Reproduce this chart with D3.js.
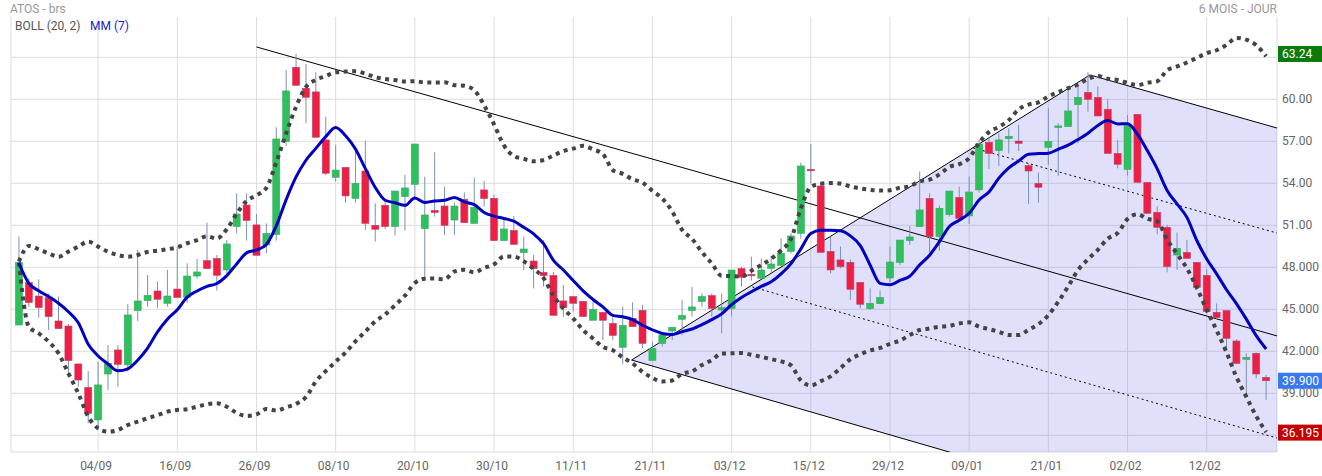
<!DOCTYPE html>
<html><head><meta charset="utf-8">
<script src="https://cdn.jsdelivr.net/npm/d3@7"></script>
<style>body{margin:0;background:#fff;font-family:Roboto,"Noto Sans",sans-serif}</style>
</head><body><svg id="c" width="1322" height="476"></svg>
<script>
// OHLC per trading day (index 0..126)
const opens  = [43.88,46.91,45.95,45.84,44.17,43.81,41.10,39.43,37.10,40.38,42.10,41.03,44.91,45.62,46.31,45.43,46.45,45.86,47.38,48.48,48.64,47.81,50.91,52.45,51.03,49.60,50.34,56.98,62.29,60.79,60.53,57.10,54.43,55.14,52.93,54.88,51.00,52.43,50.91,53.05,53.93,50.76,52.07,52.38,51.38,52.86,51.14,53.53,52.93,49.91,50.64,49.05,48.45,47.64,47.43,45.60,45.91,45.57,44.22,44.79,44.00,42.29,44.36,44.93,41.34,42.57,43.45,44.29,44.91,45.55,45.98,44.95,45.07,47.91,47.50,47.22,47.93,48.14,49.14,50.43,55.00,53.81,49.14,48.53,48.36,46.93,45.05,45.41,47.24,48.34,49.91,50.91,52.93,50.19,51.76,53.00,51.67,53.53,56.93,56.34,57.19,57.02,55.26,54.00,56.57,57.98,58.05,59.62,60.50,60.14,59.29,56.14,55.00,58.93,54.07,51.93,50.86,48.88,49.07,48.36,47.43,44.79,44.91,42.74,41.43,41.86,40.14];
const highs  = [50.19,47.22,47.14,46.14,45.91,43.95,41.10,40.60,41.26,42.45,42.45,45.38,49.24,47.45,46.98,47.81,49.48,48.29,48.60,51.19,48.88,49.95,53.29,53.29,51.81,51.14,58.00,62.10,63.24,62.53,61.93,58.76,56.74,55.14,56.62,57.05,52.57,52.86,53.45,54.60,56.81,54.48,56.22,53.76,52.62,53.34,54.41,54.17,53.17,51.38,51.67,50.19,48.88,49.95,47.67,46.74,45.91,45.57,45.55,44.79,44.48,45.19,45.50,45.31,42.69,43.17,43.72,45.67,46.62,46.14,46.14,46.14,47.81,48.05,48.76,48.64,48.81,50.07,50.43,55.48,56.81,54.00,50.19,49.48,48.57,46.93,46.50,46.34,49.48,49.95,50.95,54.84,53.29,52.41,53.45,53.76,54.48,57.10,57.34,57.57,57.93,58.17,55.43,54.76,59.36,58.29,60.67,60.91,61.93,60.91,60.00,57.10,58.88,58.93,54.07,52.34,51.03,50.48,49.95,48.36,47.86,45.43,44.91,42.86,41.86,41.93,40.31];
const lows   = [43.88,45.19,44.41,43.53,43.62,40.43,39.48,36.86,36.38,39.24,39.48,40.55,44.17,45.19,45.07,45.19,45.84,45.48,47.19,47.91,46.34,47.57,50.43,49.91,48.86,49.00,49.91,56.67,61.00,58.29,57.29,54.60,54.12,52.62,52.62,50.67,49.84,50.72,50.26,50.62,52.93,47.14,51.62,50.31,50.31,51.19,51.14,52.34,49.91,49.91,49.64,47.81,46.50,46.62,44.57,44.48,44.84,44.48,44.22,42.81,42.81,41.10,43.76,42.22,41.34,42.34,42.81,43.17,44.48,45.19,44.48,43.29,44.53,46.62,47.05,47.22,47.57,48.14,49.00,50.03,54.00,49.07,47.57,47.93,45.67,45.07,44.95,45.36,46.95,48.17,49.60,50.91,49.07,49.19,51.62,51.50,51.10,53.34,55.03,55.24,56.14,56.31,52.53,52.62,55.31,54.53,58.05,56.86,59.12,58.81,56.14,55.07,54.55,54.07,51.86,50.36,47.64,47.81,48.64,46.38,44.84,44.24,42.10,41.10,38.81,40.07,38.53];
const closes = [48.34,45.48,45.12,44.48,43.62,41.34,39.95,37.57,39.60,41.14,41.07,44.60,45.60,46.00,45.72,45.95,45.84,47.38,47.67,47.91,47.43,49.67,51.81,51.34,48.86,50.43,57.17,60.60,61.00,60.14,57.29,54.72,54.95,53.10,54.00,51.14,50.72,50.91,53.45,53.67,56.81,51.74,51.91,51.00,52.38,51.19,52.29,52.91,49.91,50.74,49.64,49.31,47.91,47.41,44.57,45.12,45.43,44.48,45.00,44.22,43.14,43.86,43.76,42.57,42.22,43.17,43.72,44.57,45.17,45.91,45.07,45.12,47.81,47.29,47.43,47.81,48.24,49.00,50.24,55.24,54.91,49.07,47.81,48.05,46.43,45.36,45.43,45.84,48.38,49.95,50.17,52.10,50.19,52.22,53.45,51.50,53.38,56.81,56.14,57.10,57.36,56.86,54.88,53.72,57.00,58.10,59.17,60.14,60.00,58.81,56.14,55.36,58.12,54.07,51.86,50.86,48.05,49.36,48.64,46.57,44.84,44.41,42.93,41.14,41.57,40.38,39.90];
// indicator values read for the first days (before full windows are available)
const mmStart    = [48.29,46.86,46.33,45.91,45.43,44.83];
const bollUpStart= [48.41,49.53,49.29,49.00,48.76,49.12,49.48,49.84,49.48,49.12,48.88,48.76,48.88,49.10,49.19,49.29,49.43,49.72,49.95];
const bollLoStart= [48.34,43.76,43.29,42.69,41.86,40.43,39.00,37.34,36.50,36.26,36.38,36.74,36.98,37.22,37.45,37.69,37.81,37.86,38.05];
const tickIdx    = [8,16,24,32,40,48,56,64,72,80,88,96,104,112,120];
const tickLabels = ["04/09","16/09","26/09","08/10","20/10","30/10","11/11","21/11","03/12","15/12","29/12","09/01","21/01","02/02","12/02"];
const yTicks     = [36,39,42,45,48,51,54,57,60,63];
const yTickLabels= {39:"39.000",42:"42.000",45:"45.000",48:"48.000",51:"51.00",54:"54.00",57:"57.00",60:"60.00"};
const badges     = [[63.24,"63.24","#0b7a0b"],[39.90,"39.900","#3a78f2"],[36.195,"36.195","#c40000"]];
// trend lines [index, price]
const mainLine   = [[24,63.74],[127.1,43.10]];
const channelA   = [[61.9,41.38],[108.2,61.74]];
const channelTop = [[108.2,61.74],[127.1,57.95]];
const channelBot = [[61.9,41.38],[127.1,28.03]];
const dotB       = [[96.4,56.53],[127.1,50.45]];
const dotA       = [[74.1,46.60],[127.1,35.81]];

const L=11,R=1277,T=17,B=452;
const svg=d3.select("#c");
const x=d3.scaleLinear().domain([-0.8,127.1]).range([L,R]);
const y=d3.scaleLinear().domain([34.81,65.88]).range([B,T]);
const n=closes.length, idx=d3.range(n);

// indicators
const mm=idx.map(i=>i<6?mmStart[i]:d3.mean(closes.slice(i-6,i+1)));
const up=[],lo=[];
idx.forEach(i=>{ if(i<19){up.push(bollUpStart[i]);lo.push(bollLoStart[i]);return;}
  const w=closes.slice(i-19,i+1),m=d3.mean(w),sd=Math.sqrt(d3.mean(w,v=>(v-m)*(v-m)));
  up.push(m+2*sd);lo.push(m-2*sd);});

svg.append("defs").append("clipPath").attr("id","clip").append("rect").attr("x",L).attr("y",T).attr("width",R-L).attr("height",B-T);
const g=svg.append("g");
// grid
g.selectAll(".hg").data(yTicks).join("line").attr("x1",L).attr("x2",R).attr("y1",d=>y(d)).attr("y2",d=>y(d)).attr("stroke","#ddd");
g.selectAll(".vg").data(tickIdx).join("line").attr("y1",T).attr("y2",B).attr("x1",d=>x(d)).attr("x2",d=>x(d)).attr("stroke","#ddd");
g.append("path").attr("d",`M${L},${T}V${B}H${R}V${T}`).attr("fill","none").attr("stroke","#ddd");

const c=svg.append("g").attr("clip-path","url(#clip)");
const pt=p=>[x(p[0]),y(p[1])];
const poly=[channelA[0],channelA[1],channelTop[1],channelBot[1]].map(pt);
c.append("polygon").attr("points",poly.join(" ")).attr("fill","rgba(110,110,235,0.21)");
const ln=(a,dash)=>c.append("line").attr("x1",x(a[0][0])).attr("y1",y(a[0][1])).attr("x2",x(a[1][0])).attr("y2",y(a[1][1]))
  .attr("stroke","#000").attr("stroke-width",1).attr("stroke-dasharray",dash||null);
[mainLine,channelA,channelTop,channelBot].forEach(a=>ln(a));
[dotB,dotA].forEach(a=>ln(a,"2 3"));

// candles
const cg=c.append("g");
idx.forEach(i=>{
  const upc=closes[i]>=opens[i];
  cg.append("line").attr("x1",x(i)).attr("x2",x(i)).attr("y1",y(highs[i])).attr("y2",y(lows[i])).attr("stroke","#7a93b3");
  const t=y(Math.max(opens[i],closes[i])),b=y(Math.min(opens[i],closes[i]));
  cg.append("rect").attr("x",x(i)-3.5).attr("width",7).attr("y",t).attr("height",Math.max(1.5,b-t))
    .attr("fill",upc?"#2ec05a":"#ee1f40").attr("stroke",upc?"#3aa76a":"#b8457a").attr("stroke-width",0.6);
});
const line=d3.line().x((d,i)=>x(i)).y(d=>y(d)).curve(d3.curveMonotoneX);
c.append("path").attr("d",line(up)).attr("fill","none").attr("stroke","#444").attr("stroke-width",4).attr("stroke-dasharray","4 4.5");
c.append("path").attr("d",line(lo)).attr("fill","none").attr("stroke","#444").attr("stroke-width",4).attr("stroke-dasharray","4 4.5");
c.append("path").attr("d",line(mm)).attr("fill","none").attr("stroke","#0000c0").attr("stroke-width",3);

// axes text
svg.selectAll(".yl").data(yTicks.filter(d=>yTickLabels[d])).join("text").attr("x",R+5).attr("y",d=>y(d)+4)
  .attr("font-size",12).attr("fill","#666").text(d=>yTickLabels[d]);
svg.selectAll(".xl").data(tickIdx).join("text").attr("x",d=>x(d)-2).attr("y",470).attr("text-anchor","middle")
  .attr("font-size",12).attr("fill","#666").text((d,i)=>tickLabels[i]);
badges.forEach(([v,t,col])=>{
  svg.append("rect").attr("x",R+1).attr("y",y(v)-8).attr("width",44).attr("height",16).attr("fill",col);
  svg.append("text").attr("x",R+5).attr("y",y(v)+4.5).attr("font-size",12).attr("fill","#fff").text(t);
});
svg.append("text").attr("x",10).attr("y",13).attr("font-size",12).attr("fill","#999").text("ATOS - brs");
svg.append("text").attr("x",R).attr("y",13).attr("text-anchor","end").attr("font-size",12).attr("fill","#999").text("6 MOIS - JOUR");
svg.append("text").attr("x",15).attr("y",30).attr("font-size",12).attr("fill","#555").text("BOLL (20, 2)");
svg.append("text").attr("x",90).attr("y",30).attr("font-size",12).attr("fill","#1a1acc").text("MM (7)");
</script></body></html>
